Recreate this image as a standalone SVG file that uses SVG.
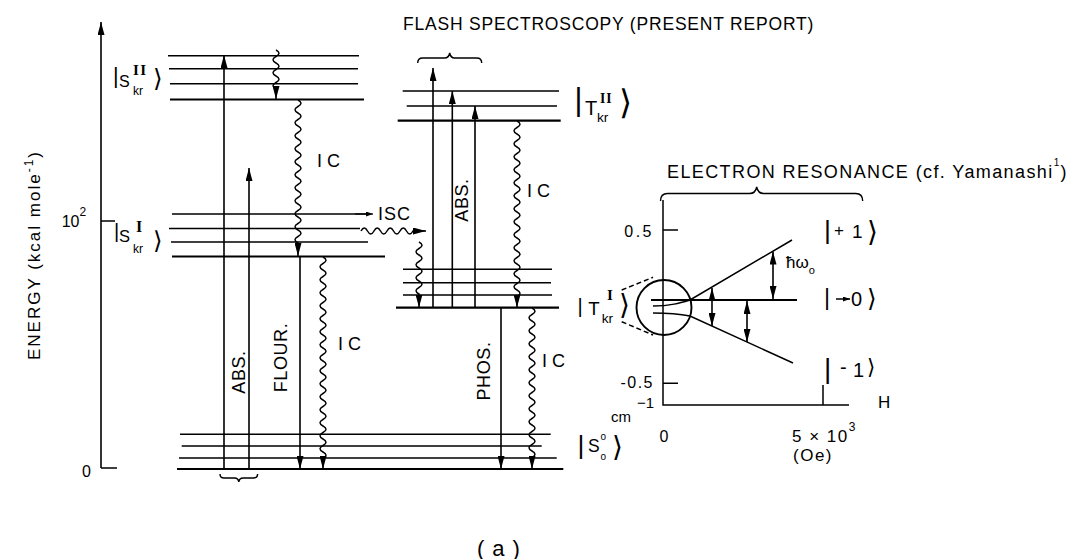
<svg xmlns="http://www.w3.org/2000/svg" width="1072" height="559" viewBox="0 0 1072 559">
<defs>
<marker id="ah" markerUnits="userSpaceOnUse" viewBox="0 0 13 7" refX="13" refY="3.5" markerWidth="13" markerHeight="7" orient="auto-start-reverse"><path d="M0,0 L13,3.5 L0,7 z" fill="#000"/></marker>
<marker id="ahs" markerUnits="userSpaceOnUse" viewBox="0 0 7 5" refX="7" refY="2.5" markerWidth="7" markerHeight="5" orient="auto"><path d="M0,0 L7,2.5 L0,5 z" fill="#000"/></marker>
</defs>
<style>
.lv{stroke:#000;stroke-width:1.5;fill:none}
.lvb{stroke:#000;stroke-width:2.2;fill:none}
.ar{stroke:#000;stroke-width:1.6;fill:none;marker-end:url(#ah)}
.dar{stroke:#000;stroke-width:1.6;fill:none;marker-start:url(#ah);marker-end:url(#ah)}
.wv{stroke:#000;stroke-width:1.5;fill:none;marker-end:url(#ah)}
.br{stroke:#000;stroke-width:1.4;fill:none}
text{font-family:"Liberation Sans",Arial,sans-serif;fill:#000}
.rn{font-family:"Liberation Serif",serif;font-weight:bold}
.kt{font-family:"DejaVu Sans",sans-serif}
.lab{font-size:18px;letter-spacing:0.6px}
.ic{font-size:18px;letter-spacing:5px}
</style>
<rect width="1072" height="559" fill="#fff"/>

<g id="titles">
<text x="403" y="30" font-size="17.5" letter-spacing="0.8">FLASH SPECTROSCOPY (PRESENT REPORT)</text>
<text x="667" y="178" font-size="18" letter-spacing="1.4">ELECTRON RESONANCE (cf. Yamanashi<tspan font-size="10" dy="-12">1</tspan><tspan dy="12">)</tspan></text>
<text x="477" y="556" font-size="22" letter-spacing="8">(a)</text>
</g>

<g id="energy-axis">
<path class="ar" d="M101,468 V22"/>
<path class="lv" d="M101,468 H117 M101,221 H115"/>
<text x="82" y="476.7" font-size="16">0</text>
<text x="61.7" y="226.7" font-size="16">10<tspan font-size="12" dy="-11">2</tspan></text>
<text transform="translate(40,255) rotate(-90)" text-anchor="middle" font-size="17" letter-spacing="2">ENERGY (kcal mole<tspan font-size="12" dy="-7">-1</tspan><tspan dy="7">)</tspan></text>
</g>

<g id="S2">
<path class="lv" d="M168,55.7 H359 M169,68.7 H358 M170,83.7 H358"/>
<path class="lvb" d="M170,99.5 H364"/>
<text x="113" y="82.5" font-size="21.6">|</text>
<text x="119" y="87" font-size="16">S</text>
<text class="rn" x="133" y="75" font-size="15" letter-spacing="1.5">II</text>
<text x="133" y="95" font-size="12">kr</text>
<text class="kt" x="153" y="86.8" font-size="24.7">⟩</text>
</g>

<g id="S1">
<path class="lv" d="M172,214 H368 M169,228.5 H360 M171,242 H368"/>
<path class="lvb" d="M172,256.5 H385"/>
<text x="114" y="237.5" font-size="20.2">|</text>
<text x="119" y="241.7" font-size="16.5">S</text>
<text class="rn" x="136" y="231.5" font-size="16">I</text>
<text x="133" y="253.3" font-size="12">kr</text>
<text class="kt" x="153" y="248.5" font-size="24.4">⟩</text>
</g>

<g id="S0">
<path class="lv" d="M180,434.3 H550.7 M181.7,446 H541.7 M179,458 H556.7"/>
<path class="lvb" d="M177,469 H563.3"/>
<text x="577.5" y="454.4" font-size="26.6">|</text>
<text x="588" y="451.7" font-size="17.5">S</text>
<text x="600.5" y="440" font-size="10">o</text>
<text x="600.5" y="460" font-size="10">o</text>
<text class="kt" x="612" y="456.4" font-size="28">⟩</text>
</g>

<g id="T2">
<path class="lv" d="M402.7,91 H559 M406.7,106 H557"/>
<path class="lvb" d="M397.7,120.7 H560.7"/>
<text x="574.5" y="110.3" font-size="30.5">|</text>
<text x="585" y="115" font-size="20">T</text>
<text class="rn" x="600" y="103" font-size="13.6" letter-spacing="1">II</text>
<text x="597" y="121.7" font-size="13.7">kr</text>
<text class="kt" x="619" y="113.9" font-size="33.7">⟩</text>
</g>

<g id="T1">
<path class="lv" d="M403,269.3 H552 M403,282.7 H551 M403,295 H552"/>
<path class="lvb" d="M396,307.7 H559"/>
<text x="577.5" y="312.5" font-size="20">|</text>
<text x="588.3" y="315" font-size="18.6">T</text>
<text class="rn" x="607" y="300" font-size="15">I</text>
<text x="601.7" y="323.3" font-size="13.7">kr</text>
<text class="kt" x="619" y="314.4" font-size="28">⟩</text>
<path class="lv" stroke-width="1.3" stroke-dasharray="5,3" d="M621.7,290 L653,277.3 M621.7,321.7 L653,335"/>
</g>

<g id="er-plot">
<path d="M660.5,201 q0,-7.5 7,-7.5 h82 q6,0 7.2,-6.5 q1.2,6.5 7.2,6.5 h91.8 q7,0 7,7.5" class="br"/>
<path class="lv" stroke-width="1.7" d="M663,200 V405 H849"/>
<path class="lv" d="M663,230 H678 M663,383.3 H678 M823,385 V405"/>
<circle cx="664" cy="307.5" r="27.5" fill="none" stroke="#000" stroke-width="1.9"/>
<path class="lvb" d="M651,300 H797"/>
<path class="lv" d="M653,306 C670,306 680,303 690,300 L792,240"/>
<path class="lv" d="M653,313 C668,313 680,314 690,316 L793,363"/>
<path class="dar" d="M773,299 V251.5"/>
<path class="dar" d="M712,288 V326"/>
<path class="dar" d="M747,301 V342"/>
<text x="786" y="268" font-size="17">ħω<tspan font-size="11" dy="6">o</tspan></text>
<text x="654" y="236.7" font-size="16" letter-spacing="2.5" text-anchor="end">0.5</text>
<text x="654" y="388" font-size="16" letter-spacing="1.5" text-anchor="end">-0.5</text>
<text x="611" y="422" font-size="15">cm<tspan x="637" y="408">−1</tspan></text>
<text x="664" y="441.7" font-size="16" text-anchor="middle">0</text>
<text x="792" y="441.7" font-size="17" letter-spacing="1.5">5 × 10<tspan font-size="12" dy="-11">3</tspan></text>
<text x="793" y="461" font-size="17" letter-spacing="1.5">(Oe)</text>
<text x="878" y="408" font-size="17">H</text>
</g>

<g id="ket-plus1">
<text x="824" y="239.4" font-size="26.6">|</text>
<text x="834" y="236" font-size="17">+</text>
<text x="852" y="238" font-size="19">1</text>
<text class="kt" x="867" y="241.4" font-size="28">⟩</text>
</g>
<g id="ket-zero">
<text x="824" y="305" font-size="23.4">|</text>
<path stroke="#000" stroke-width="1.5" marker-end="url(#ahs)" d="M836,299 H850"/>
<text x="851" y="306" font-size="20">0</text>
<text class="kt" x="867" y="306.8" font-size="24.7">⟩</text>
</g>
<g id="ket-minus1">
<text x="824" y="378" font-size="28">|</text>
<text x="840" y="374" font-size="20">-</text>
<text x="853" y="376.7" font-size="20">1</text>
<text class="kt" x="867" y="374.2" font-size="21.3">⟩</text>
</g>

<g id="connectors">
<path stroke="#000" stroke-width="1.2" marker-end="url(#ahs)" d="M355,214 H373"/>
<path class="ar" d="M224,468 V55"/>
<path class="ar" d="M249,469 V168"/>
<path class="ar" d="M300,257 V469"/>
<path class="ar" d="M433,307.5 V68"/>
<path class="ar" d="M452.3,307.5 V91"/>
<path class="ar" d="M475,307.5 V106"/>
<path class="ar" d="M501,308 V469"/>
<path class="wv" d="M276,50 q6,3.25 0,6.5 t0,6.5 t0,6.5 t0,6.5 t0,6.5 t0,6.5 l0,10"/>
<path class="wv" d="M298,100 q6,3.25 0,6.5 t0,6.5 t0,6.5 t0,6.5 t0,6.5 t0,6.5 t0,6.5 t0,6.5 t0,6.5 t0,6.5 t0,6.5 t0,6.5 t0,6.5 t0,6.5 t0,6.5 t0,6.5 t0,6.5 t0,6.5 t0,6.5 t0,6.5 t0,6.5 t0,6.5 l0,13"/>
<path class="wv" d="M323,257 q6,3.25 0,6.5 t0,6.5 t0,6.5 t0,6.5 t0,6.5 t0,6.5 t0,6.5 t0,6.5 t0,6.5 t0,6.5 t0,6.5 t0,6.5 t0,6.5 t0,6.5 t0,6.5 t0,6.5 t0,6.5 t0,6.5 t0,6.5 t0,6.5 t0,6.5 t0,6.5 t0,6.5 t0,6.5 t0,6.5 t0,6.5 t0,6.5 t0,6.5 t0,6.5 t0,6.5 t0,6.5 l0,10.5"/>
<path class="wv" d="M361,231 q3.25,-6 6.5,0 t6.5,0 t6.5,0 t6.5,0 t6.5,0 t6.5,0 t6.5,0 t6.5,0 l13,0"/>
<path class="wv" d="M419,242 q6,3.25 0,6.5 t0,6.5 t0,6.5 t0,6.5 t0,6.5 t0,6.5 t0,6.5 t0,6.5 l0,13.5"/>
<path class="wv" d="M517,121 q6,3.25 0,6.5 t0,6.5 t0,6.5 t0,6.5 t0,6.5 t0,6.5 t0,6.5 t0,6.5 t0,6.5 t0,6.5 t0,6.5 t0,6.5 t0,6.5 t0,6.5 t0,6.5 t0,6.5 t0,6.5 t0,6.5 t0,6.5 t0,6.5 t0,6.5 t0,6.5 t0,6.5 t0,6.5 t0,6.5 t0,6.5 t0,6.5 l0,11"/>
<path class="wv" d="M532,308 q6,3.25 0,6.5 t0,6.5 t0,6.5 t0,6.5 t0,6.5 t0,6.5 t0,6.5 t0,6.5 t0,6.5 t0,6.5 t0,6.5 t0,6.5 t0,6.5 t0,6.5 t0,6.5 t0,6.5 t0,6.5 t0,6.5 t0,6.5 t0,6.5 t0,6.5 t0,6.5 t0,6.5 l0,11.5"/>
<path class="br" d="M220,474 q0,4 4,4 h10.5 q3.8,0 4.3,4 q0.5,-4 4.3,-4 h10.5 q4,0 4,-4"/>
<path class="br" d="M417.7,63 q0,-5 5,-5 h22 q4,0 5,-5 q1,5 5,5 h22 q5,0 5,5"/>
</g>

<g id="labels">
<text class="ic" x="317" y="166.7">IC</text>
<text class="ic" x="338" y="350">IC</text>
<text class="ic" x="527" y="197">IC</text>
<text class="ic" x="542" y="366.5">IC</text>
<text x="378" y="220" font-size="18" letter-spacing="1">ISC</text>
<text class="lab" transform="translate(245,372) rotate(-90)" text-anchor="middle">ABS.</text>
<text class="lab" transform="translate(287,357.5) rotate(-90)" text-anchor="middle">FLOUR.</text>
<text class="lab" transform="translate(468,200) rotate(-90)" text-anchor="middle">ABS.</text>
<text class="lab" transform="translate(490,371) rotate(-90)" text-anchor="middle" letter-spacing="1.2">PHOS.</text>
</g>
</svg>
